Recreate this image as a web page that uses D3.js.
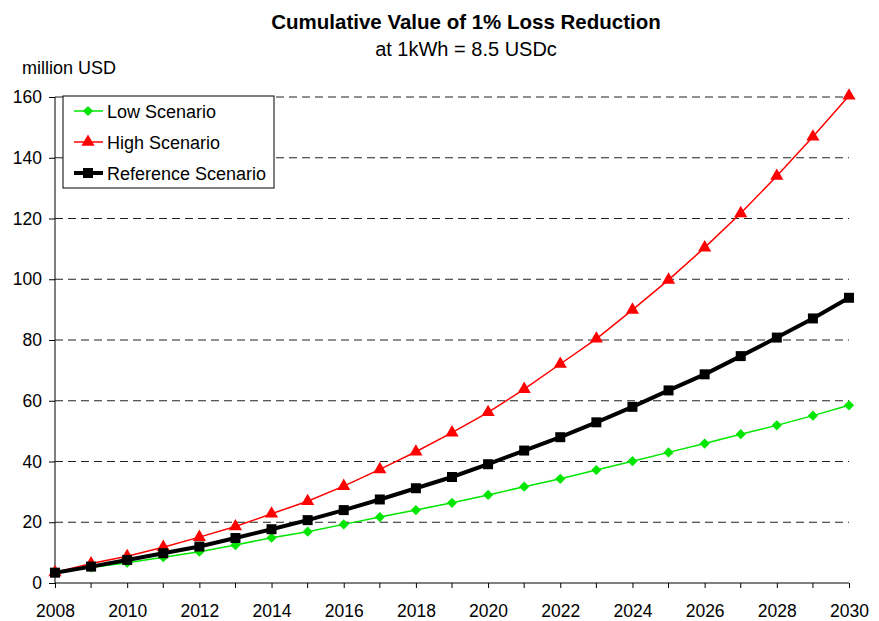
<!DOCTYPE html>
<html>
<head>
<meta charset="utf-8">
<script src="https://cdn.jsdelivr.net/npm/d3@7"></script>
<style>
  body { margin: 0; background: #fff; }
  text { font-family: "Liberation Sans", Arial, sans-serif; }
</style>
</head>
<body>
<div id="chart"></div>
<script>
const years = d3.range(2008, 2031);
const lowValues = [3.5, 5.1, 6.7, 8.5, 10.3, 12.5, 14.9, 16.9, 19.3, 21.7, 24.0, 26.4,
  29.0, 31.7, 34.3, 37.2, 40.1, 43.0, 45.9, 49.0, 51.9, 55.1, 58.5];
const highValues = [3.5, 6.4, 8.8, 11.8, 15.1, 18.6, 22.8, 26.9, 31.9, 37.4, 43.2, 49.5,
  56.2, 63.8, 72.1, 80.4, 89.9, 99.8, 110.4, 121.7, 134.0, 146.9, 160.4];
const refValues = [3.4, 5.4, 7.6, 9.8, 12.0, 14.8, 17.7, 20.7, 24.0, 27.5, 31.2, 34.9,
  39.1, 43.6, 48.0, 52.9, 58.0, 63.4, 68.7, 74.7, 80.8, 87.1, 93.9];
const yTicks = [0, 20, 40, 60, 80, 100, 120, 140, 160];
const xTicks = d3.range(2008, 2031, 2);

const width = 879;
const height = 621;
const margin = { left: 55, right: 30, top: 97, bottom: 38 };

const svg = d3.select("#chart")
  .append("svg")
  .attr("width", width)
  .attr("height", height);

const x = d3.scaleLinear()
  .domain([2008, 2030])
  .range([margin.left, 849]);

const y = d3.scaleLinear()
  .domain([0, 160])
  .range([583, margin.top]);

// gridlines
svg.append("g")
  .selectAll("line")
  .data(yTicks.filter(d => d > 0))
  .join("line")
  .attr("x1", x(2008))
  .attr("x2", x(2030))
  .attr("y1", d => y(d))
  .attr("y2", d => y(d))
  .attr("stroke", "#222")
  .attr("stroke-width", 1)
  .attr("stroke-dasharray", "8,5");

// axes
const xAxis = svg.append("g")
  .attr("transform", `translate(0,${y(0)})`)
  .call(d3.axisBottom(x).tickValues(xTicks).tickFormat(d3.format("d")).tickSize(5).tickPadding(17));

xAxis.append("g")
  .selectAll("line")
  .data(years.filter(d => d % 2 === 1))
  .join("line")
  .attr("x1", d => x(d))
  .attr("x2", d => x(d))
  .attr("y1", 0)
  .attr("y2", 5)
  .attr("stroke", "#000");

const yAxis = svg.append("g")
  .attr("transform", `translate(${x(2008)},0)`)
  .call(d3.axisLeft(y).tickValues(yTicks).tickSize(6).tickPadding(7));

[xAxis, yAxis].forEach(a => {
  a.select(".domain").attr("stroke", "#000").attr("stroke-width", 1);
  a.selectAll(".tick line").attr("stroke", "#000");
  a.selectAll("text")
    .attr("fill", "#000")
    .attr("font-size", 17.5)
    .attr("font-family", "Liberation Sans, Arial, sans-serif");
});
xAxis.select(".domain").attr("d", `M${x(2008)},0H${x(2030)}`);
yAxis.select(".domain").attr("d", `M0,${y(160)}V${y(0)}`);

// series
const series = [
  { name: "Low Scenario", values: lowValues, color: "#00e600", width: 1.5, shape: "diamond" },
  { name: "High Scenario", values: highValues, color: "#ff0000", width: 1.5, shape: "triangle" },
  { name: "Reference Scenario", values: refValues, color: "#000", width: 4, shape: "square" }
];

// diamond is a square turned 45 degrees, wider than d3.symbolDiamond
const symbolType = {
  diamond: d3.symbolSquare,
  triangle: d3.symbolTriangle,
  square: d3.symbolSquare
};
const symbolSize = { diamond: 52, triangle: 75, square: 100 };
const symbolRotate = { diamond: 45, triangle: 0, square: 0 };

const line = d3.line()
  .x((d, i) => x(years[i]))
  .y(d => y(d));

series.forEach(s => {
  svg.append("path")
    .datum(s.values)
    .attr("fill", "none")
    .attr("stroke", s.color)
    .attr("stroke-width", s.width)
    .attr("d", line);

  svg.append("g")
    .selectAll("path")
    .data(s.values)
    .join("path")
    .attr("transform", (d, i) => `translate(${x(years[i])},${y(d)}) rotate(${symbolRotate[s.shape]})`)
    .attr("d", d3.symbol().type(symbolType[s.shape]).size(symbolSize[s.shape]))
    .attr("fill", s.color);
});

// legend
const legend = svg.append("g")
  .attr("transform", "translate(63,96)");

legend.append("rect")
  .attr("width", 211)
  .attr("height", 92)
  .attr("fill", "#fff")
  .attr("stroke", "#000")
  .attr("stroke-width", 1);

const legendItem = legend.selectAll("g")
  .data(series)
  .join("g")
  .attr("transform", (d, i) => `translate(0,${15 + i * 31})`);

legendItem.append("line")
  .attr("x1", 11)
  .attr("x2", 40)
  .attr("stroke", d => d.color)
  .attr("stroke-width", d => d.width);

legendItem.append("path")
  .attr("transform", d => `translate(25,0) rotate(${symbolRotate[d.shape]})`)
  .attr("d", d => d3.symbol().type(symbolType[d.shape]).size(symbolSize[d.shape])())
  .attr("fill", d => d.color);

legendItem.append("text")
  .attr("x", 44)
  .attr("y", 6.5)
  .attr("font-size", 18)
  .text(d => d.name);

// titles
svg.append("text")
  .attr("x", 466)
  .attr("y", 29)
  .attr("text-anchor", "middle")
  .attr("font-size", 20.5)
  .attr("font-weight", "bold")
  .text("Cumulative Value of 1% Loss Reduction");

svg.append("text")
  .attr("x", 466)
  .attr("y", 56)
  .attr("text-anchor", "middle")
  .attr("font-size", 20)
  .text("at 1kWh = 8.5 USDc");

svg.append("text")
  .attr("x", 22)
  .attr("y", 74)
  .attr("font-size", 18)
  .text("million USD");
</script>
</body>
</html>
